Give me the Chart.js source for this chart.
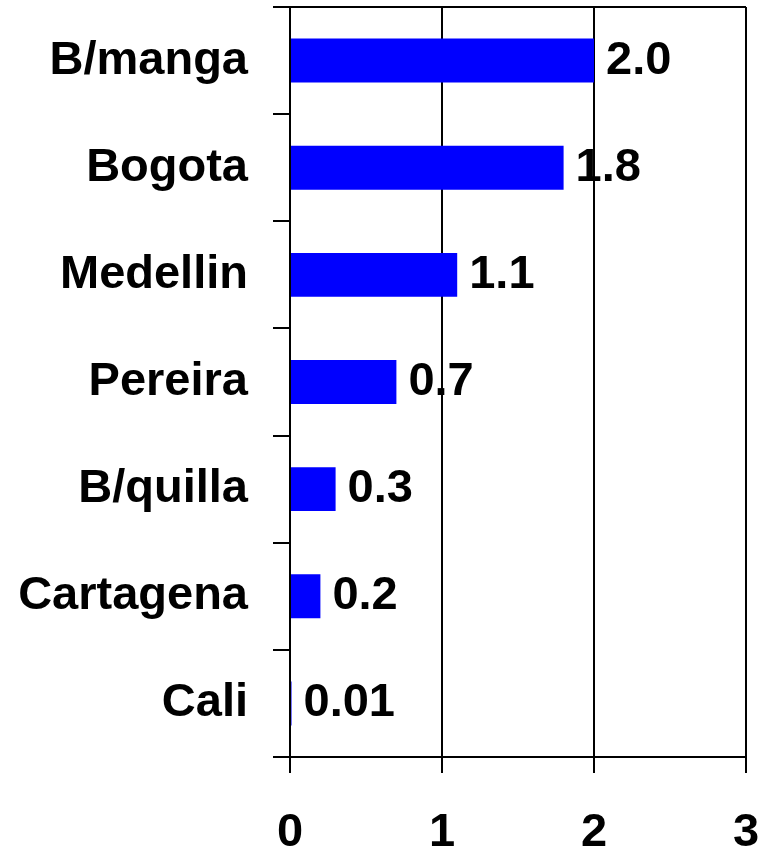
<!DOCTYPE html>
<html>
<head>
<meta charset="utf-8">
<style>
  html, body { margin: 0; padding: 0; background: #fff; }
  #c { display: block; }
</style>
<script src="https://cdn.jsdelivr.net/npm/chart.js@4/dist/chart.umd.min.js"></script>
</head>
<body>
<canvas id="c" width="769" height="849"></canvas>
<script>
const categories = ["B/manga", "Bogota", "Medellin", "Pereira", "B/quilla", "Cartagena", "Cali"];
const values = [2.0, 1.8, 1.1, 0.7, 0.3, 0.2, 0.01];
const valueLabels = ["2.0", "1.8", "1.1", "0.7", "0.3", "0.2", "0.01"];
const xTicks = [0, 1, 2, 3];

const FONT = "'Liberation Sans', Arial, sans-serif";

const valueLabelPlugin = {
  id: 'valueLabels',
  afterDatasetsDraw(chart) {
    const ctx = chart.ctx;
    const meta = chart.getDatasetMeta(0);
    ctx.save();
    ctx.font = "bold 47px " + FONT;
    ctx.fillStyle = '#000';
    ctx.textAlign = 'left';
    ctx.textBaseline = 'middle';
    meta.data.forEach((bar, i) => {
      ctx.fillText(valueLabels[i], bar.x + 12, bar.y);
    });
    ctx.restore();
  }
};

new Chart(document.getElementById('c'), {
  type: 'bar',
  data: {
    labels: categories,
    datasets: [{
      data: values,
      backgroundColor: '#0000FF',
      borderWidth: 0,
      barPercentage: 0.41,
      categoryPercentage: 1.0
    }]
  },
  plugins: [valueLabelPlugin],
  options: {
    indexAxis: 'y',
    responsive: false,
    animation: false,
    devicePixelRatio: 1,
    layout: { padding: { top: 7, right: 23, left: 0, bottom: 0 } },
    plugins: {
      legend: { display: false },
      tooltip: { enabled: false }
    },
    scales: {
      x: {
        type: 'linear',
        min: xTicks[0],
        max: xTicks[xTicks.length - 1],
        afterBuildTicks(scale) { scale.ticks = xTicks.map(v => ({ value: v })); },
        afterFit(scale) {
          scale.height = 92;
          scale.paddingLeft = 0;
          scale.paddingRight = 0;
        },
        ticks: {
          color: '#000',
          font: { family: FONT, size: 47, weight: 'bold' },
          padding: 32,
          maxRotation: 0
        },
        grid: {
          color: '#000',
          lineWidth: 2,
          tickLength: 16,
          drawOnChartArea: true
        },
        border: { display: true, color: '#000', width: 2 }
      },
      y: {
        type: 'category',
        afterFit(scale) {
          scale.width = 290;
          scale.paddingTop = 0;
          scale.paddingBottom = 0;
        },
        ticks: {
          color: '#000',
          font: { family: FONT, size: 47, weight: 'bold' },
          padding: 25
        },
        grid: {
          offset: true,
          color: (c) => (c.index === 0 ? '#000' : 'rgba(0,0,0,0)'),
          tickColor: '#000',
          lineWidth: 2,
          tickLength: 17,
          drawOnChartArea: true
        },
        border: { display: true, color: '#000', width: 2 }
      }
    }
  }
});
</script>
</body>
</html>
